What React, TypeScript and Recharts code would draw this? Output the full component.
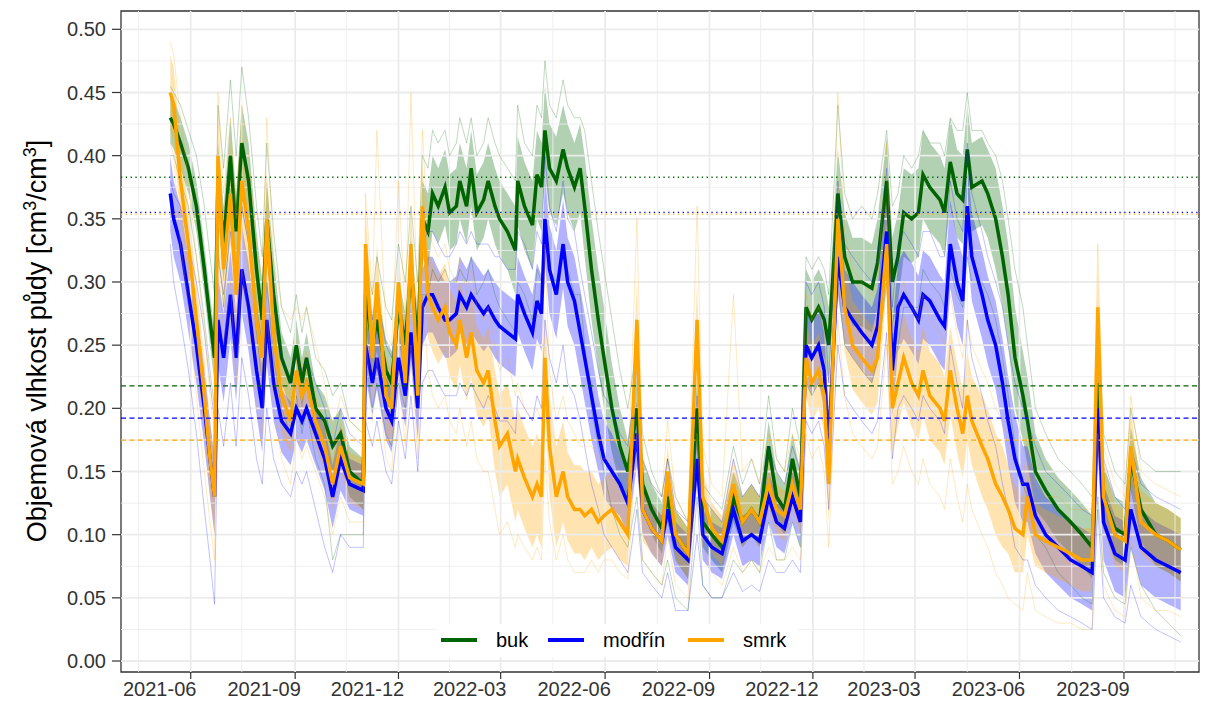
import { ComposedChart, Line, Area, XAxis, YAxis, ReferenceLine, ReferenceArea } from "recharts";

// measurement dates shared by all three stands
const dates = [
  "2021-05-14", "2021-05-17", "2021-05-23", "2021-05-30", "2021-06-06", "2021-06-13", "2021-06-18", "2021-06-22", "2021-06-25", "2021-06-30",
  "2021-07-06", "2021-07-11", "2021-07-16", "2021-07-22", "2021-07-29", "2021-08-03", "2021-08-07", "2021-08-13", "2021-08-20", "2021-08-28",
  "2021-09-02", "2021-09-07", "2021-09-11", "2021-09-19", "2021-09-27", "2021-10-04", "2021-10-11", "2021-10-19", "2021-10-31", "2021-11-02",
  "2021-11-08", "2021-11-12", "2021-11-20", "2021-11-25", "2021-12-01", "2021-12-07", "2021-12-12", "2021-12-18", "2021-12-22", "2021-12-27",
  "2021-12-31", "2022-01-05", "2022-01-11", "2022-01-15", "2022-01-21", "2022-01-24", "2022-01-30", "2022-02-03", "2022-02-08", "2022-02-14",
  "2022-02-18", "2022-02-24", "2022-02-28", "2022-03-07", "2022-03-14", "2022-03-16", "2022-03-22", "2022-03-29", "2022-04-02", "2022-04-06",
  "2022-04-09", "2022-04-13", "2022-04-19", "2022-04-25", "2022-04-29", "2022-05-05", "2022-05-10", "2022-05-14", "2022-05-20", "2022-05-26",
  "2022-05-31", "2022-06-07", "2022-06-14", "2022-06-21", "2022-06-29", "2022-07-04", "2022-07-12", "2022-07-21", "2022-07-26", "2022-08-02",
  "2022-08-13", "2022-08-21", "2022-08-26", "2022-09-03", "2022-09-12", "2022-09-22", "2022-09-30", "2022-10-08", "2022-10-15", "2022-10-23",
  "2022-10-30", "2022-11-06", "2022-11-13", "2022-11-20", "2022-11-25", "2022-11-30", "2022-12-06", "2022-12-11", "2022-12-15", "2022-12-23",
  "2022-12-29", "2023-01-05", "2023-01-13", "2023-01-22", "2023-01-27", "2023-02-04", "2023-02-09", "2023-02-14", "2023-02-19", "2023-02-26",
  "2023-03-04", "2023-03-08", "2023-03-14", "2023-03-23", "2023-03-27", "2023-04-01", "2023-04-07", "2023-04-12", "2023-04-16", "2023-04-20",
  "2023-04-29", "2023-05-04", "2023-05-11", "2023-05-17", "2023-05-22", "2023-05-28", "2023-06-04", "2023-06-08", "2023-06-15", "2023-06-24",
  "2023-07-05", "2023-07-16", "2023-07-26", "2023-08-04", "2023-08-09", "2023-08-14", "2023-08-24", "2023-09-02", "2023-09-07", "2023-09-16",
  "2023-09-29", "2023-10-10", "2023-10-21",
];

// buk (beech): mean, ribbon half width, wettest and driest single sensor
const bukMean = [
  0.43, 0.425, 0.41, 0.39, 0.36, 0.31, 0.27, 0.24, 0.38, 0.33,
  0.40, 0.34, 0.41, 0.38, 0.31, 0.27, 0.35, 0.29, 0.24, 0.22,
  0.25, 0.22, 0.24, 0.20, 0.19, 0.17, 0.18, 0.15, 0.14, 0.29,
  0.25, 0.27, 0.23, 0.22, 0.28, 0.25, 0.31, 0.25, 0.35, 0.34,
  0.37, 0.36, 0.375, 0.355, 0.36, 0.38, 0.36, 0.39, 0.355, 0.365,
  0.38, 0.36, 0.35, 0.34, 0.325, 0.38, 0.36, 0.345, 0.385, 0.375,
  0.42, 0.39, 0.38, 0.405, 0.39, 0.375, 0.39, 0.36, 0.31, 0.27,
  0.24, 0.20, 0.17, 0.15, 0.20, 0.14, 0.12, 0.105, 0.13, 0.10,
  0.085, 0.20, 0.11, 0.10, 0.09, 0.13, 0.11, 0.12, 0.11, 0.17,
  0.13, 0.12, 0.16, 0.13, 0.28, 0.27, 0.28, 0.27, 0.25, 0.37,
  0.32, 0.30, 0.30, 0.295, 0.315, 0.38, 0.30, 0.32, 0.355, 0.35,
  0.355, 0.385, 0.375, 0.365, 0.355, 0.395, 0.37, 0.365, 0.405, 0.375,
  0.38, 0.37, 0.35, 0.32, 0.29, 0.24, 0.21, 0.19, 0.15, 0.135,
  0.12, 0.11, 0.10, 0.09, 0.22, 0.13, 0.105, 0.10, 0.16, 0.12,
  0.10, 0.095, 0.088,
];
const bukSpread = [
  0.02, 0.02, 0.02, 0.02, 0.02, 0.02, 0.02, 0.02, 0.03, 0.03,
  0.03, 0.03, 0.03, 0.03, 0.03, 0.03, 0.03, 0.03, 0.02, 0.02,
  0.02, 0.02, 0.02, 0.02, 0.02, 0.02, 0.02, 0.02, 0.02, 0.025,
  0.025, 0.025, 0.025, 0.025, 0.025, 0.025, 0.025, 0.025, 0.03, 0.03,
  0.03, 0.03, 0.03, 0.03, 0.03, 0.03, 0.03, 0.03, 0.03, 0.03,
  0.03, 0.03, 0.03, 0.03, 0.035, 0.035, 0.035, 0.035, 0.035, 0.035,
  0.035, 0.035, 0.035, 0.035, 0.035, 0.035, 0.035, 0.04, 0.04, 0.04,
  0.04, 0.035, 0.03, 0.025, 0.025, 0.02, 0.02, 0.02, 0.02, 0.02,
  0.02, 0.025, 0.02, 0.02, 0.02, 0.02, 0.02, 0.02, 0.02, 0.02,
  0.02, 0.02, 0.02, 0.02, 0.03, 0.03, 0.03, 0.03, 0.03, 0.035,
  0.035, 0.035, 0.035, 0.035, 0.035, 0.035, 0.035, 0.035, 0.035, 0.035,
  0.035, 0.035, 0.035, 0.035, 0.035, 0.035, 0.035, 0.035, 0.035, 0.035,
  0.035, 0.035, 0.04, 0.04, 0.04, 0.04, 0.035, 0.035, 0.03, 0.025,
  0.025, 0.025, 0.025, 0.025, 0.03, 0.025, 0.025, 0.025, 0.025, 0.025,
  0.025, 0.025, 0.025,
];
const bukUpper = [
  0.455, 0.45, 0.44, 0.42, 0.40, 0.36, 0.32, 0.29, 0.44, 0.39,
  0.46, 0.40, 0.47, 0.43, 0.36, 0.32, 0.41, 0.34, 0.28, 0.26,
  0.29, 0.26, 0.28, 0.24, 0.23, 0.21, 0.22, 0.19, 0.18, 0.32,
  0.29, 0.32, 0.28, 0.27, 0.33, 0.30, 0.36, 0.30, 0.40, 0.39,
  0.42, 0.41, 0.42, 0.40, 0.41, 0.43, 0.41, 0.43, 0.40, 0.41,
  0.43, 0.41, 0.40, 0.39, 0.38, 0.44, 0.41, 0.40, 0.44, 0.43,
  0.475, 0.44, 0.43, 0.46, 0.44, 0.43, 0.43, 0.42, 0.38, 0.34,
  0.31, 0.27, 0.23, 0.20, 0.25, 0.18, 0.15, 0.13, 0.16, 0.13,
  0.11, 0.25, 0.14, 0.13, 0.12, 0.17, 0.14, 0.16, 0.14, 0.21,
  0.16, 0.15, 0.20, 0.17, 0.32, 0.31, 0.32, 0.31, 0.29, 0.44,
  0.37, 0.35, 0.36, 0.35, 0.37, 0.42, 0.36, 0.37, 0.40, 0.39,
  0.40, 0.42, 0.41, 0.41, 0.40, 0.43, 0.42, 0.42, 0.45, 0.42,
  0.42, 0.41, 0.40, 0.38, 0.35, 0.31, 0.28, 0.25, 0.20, 0.18,
  0.16, 0.15, 0.14, 0.13, 0.27, 0.18, 0.15, 0.14, 0.20, 0.16,
  0.15, 0.15, 0.15,
];
const bukLower = [
  0.40, 0.40, 0.38, 0.36, 0.32, 0.27, 0.23, 0.20, 0.33, 0.28,
  0.35, 0.29, 0.36, 0.33, 0.26, 0.22, 0.30, 0.24, 0.20, 0.18,
  0.21, 0.18, 0.20, 0.16, 0.14, 0.08, 0.10, 0.10, 0.10, 0.24,
  0.20, 0.22, 0.18, 0.17, 0.22, 0.20, 0.25, 0.20, 0.29, 0.29,
  0.31, 0.30, 0.31, 0.30, 0.30, 0.31, 0.30, 0.32, 0.29, 0.30,
  0.31, 0.29, 0.28, 0.27, 0.26, 0.30, 0.29, 0.27, 0.31, 0.30,
  0.34, 0.31, 0.30, 0.32, 0.31, 0.29, 0.29, 0.25, 0.20, 0.17,
  0.15, 0.12, 0.10, 0.09, 0.13, 0.08, 0.07, 0.06, 0.08, 0.05,
  0.04, 0.13, 0.06, 0.05, 0.05, 0.08, 0.07, 0.08, 0.07, 0.11,
  0.08, 0.08, 0.11, 0.09, 0.22, 0.21, 0.22, 0.21, 0.18, 0.30,
  0.25, 0.24, 0.23, 0.22, 0.24, 0.30, 0.23, 0.25, 0.28, 0.28,
  0.28, 0.31, 0.30, 0.29, 0.28, 0.31, 0.29, 0.28, 0.32, 0.30,
  0.30, 0.29, 0.27, 0.24, 0.21, 0.17, 0.14, 0.13, 0.10, 0.09,
  0.07, 0.06, 0.05, 0.045, 0.13, 0.07, 0.05, 0.045, 0.09, 0.06,
  0.04, 0.03, 0.02,
];

// modřín (larch)
const modrinMean = [
  0.37, 0.35, 0.33, 0.29, 0.25, 0.20, 0.16, 0.13, 0.27, 0.24,
  0.29, 0.24, 0.31, 0.28, 0.23, 0.20, 0.27, 0.22, 0.19, 0.18,
  0.20, 0.19, 0.20, 0.18, 0.16, 0.13, 0.16, 0.14, 0.135, 0.25,
  0.22, 0.24, 0.20, 0.19, 0.24, 0.21, 0.26, 0.20, 0.28, 0.29,
  0.29, 0.28, 0.27, 0.27, 0.275, 0.29, 0.28, 0.29, 0.283, 0.275,
  0.28, 0.27, 0.265, 0.26, 0.255, 0.29, 0.275, 0.26, 0.285, 0.275,
  0.35, 0.31, 0.29, 0.33, 0.30, 0.285, 0.26, 0.24, 0.21, 0.18,
  0.16, 0.15, 0.14, 0.125, 0.18, 0.12, 0.105, 0.095, 0.12, 0.09,
  0.08, 0.16, 0.10, 0.09, 0.085, 0.12, 0.095, 0.10, 0.095, 0.13,
  0.11, 0.105, 0.13, 0.11, 0.25, 0.24, 0.25, 0.23, 0.17, 0.32,
  0.28, 0.27, 0.26, 0.25, 0.265, 0.34, 0.23, 0.28, 0.29, 0.28,
  0.27, 0.29, 0.285, 0.27, 0.265, 0.33, 0.30, 0.285, 0.36, 0.32,
  0.29, 0.27, 0.25, 0.22, 0.19, 0.16, 0.14, 0.14, 0.115, 0.10,
  0.09, 0.08, 0.075, 0.07, 0.20, 0.11, 0.085, 0.08, 0.12, 0.09,
  0.08, 0.075, 0.07,
];
const modrinSpread = [
  0.03, 0.03, 0.03, 0.03, 0.03, 0.03, 0.03, 0.03, 0.035, 0.035,
  0.035, 0.035, 0.035, 0.035, 0.035, 0.035, 0.035, 0.03, 0.025, 0.025,
  0.025, 0.025, 0.025, 0.025, 0.025, 0.025, 0.025, 0.02, 0.02, 0.025,
  0.025, 0.025, 0.025, 0.025, 0.025, 0.025, 0.025, 0.025, 0.03, 0.03,
  0.03, 0.03, 0.03, 0.03, 0.03, 0.03, 0.03, 0.03, 0.03, 0.03,
  0.03, 0.03, 0.03, 0.03, 0.03, 0.03, 0.03, 0.03, 0.03, 0.03,
  0.035, 0.035, 0.035, 0.035, 0.035, 0.035, 0.035, 0.035, 0.035, 0.03,
  0.03, 0.03, 0.025, 0.025, 0.025, 0.02, 0.02, 0.02, 0.02, 0.02,
  0.02, 0.02, 0.02, 0.02, 0.02, 0.02, 0.02, 0.02, 0.02, 0.02,
  0.02, 0.02, 0.02, 0.02, 0.03, 0.03, 0.03, 0.03, 0.03, 0.03,
  0.03, 0.03, 0.03, 0.03, 0.03, 0.035, 0.035, 0.035, 0.035, 0.035,
  0.035, 0.035, 0.035, 0.035, 0.035, 0.035, 0.035, 0.035, 0.035, 0.035,
  0.035, 0.035, 0.035, 0.035, 0.035, 0.035, 0.03, 0.03, 0.03, 0.03,
  0.03, 0.03, 0.03, 0.03, 0.035, 0.03, 0.03, 0.03, 0.03, 0.03,
  0.03, 0.03, 0.03,
];
const modrinUpper = [
  0.38, 0.37, 0.36, 0.33, 0.30, 0.26, 0.22, 0.19, 0.32, 0.29,
  0.34, 0.29, 0.36, 0.33, 0.28, 0.25, 0.32, 0.27, 0.24, 0.22,
  0.24, 0.23, 0.24, 0.22, 0.20, 0.17, 0.20, 0.18, 0.17, 0.30,
  0.27, 0.29, 0.25, 0.24, 0.29, 0.26, 0.31, 0.25, 0.33, 0.34,
  0.34, 0.33, 0.32, 0.32, 0.33, 0.34, 0.33, 0.34, 0.33, 0.33,
  0.33, 0.32, 0.32, 0.31, 0.31, 0.34, 0.33, 0.31, 0.34, 0.33,
  0.40, 0.36, 0.34, 0.38, 0.35, 0.34, 0.31, 0.29, 0.26, 0.23,
  0.21, 0.20, 0.18, 0.17, 0.23, 0.16, 0.14, 0.13, 0.16, 0.12,
  0.11, 0.21, 0.13, 0.12, 0.11, 0.16, 0.13, 0.14, 0.13, 0.17,
  0.15, 0.14, 0.17, 0.15, 0.30, 0.29, 0.30, 0.28, 0.22, 0.38,
  0.33, 0.32, 0.31, 0.30, 0.32, 0.39, 0.28, 0.33, 0.34, 0.33,
  0.32, 0.34, 0.34, 0.32, 0.32, 0.38, 0.35, 0.34, 0.41, 0.37,
  0.34, 0.32, 0.30, 0.28, 0.25, 0.22, 0.20, 0.19, 0.17, 0.15,
  0.14, 0.13, 0.12, 0.115, 0.25, 0.16, 0.13, 0.12, 0.17, 0.14,
  0.13, 0.125, 0.12,
];
const modrinLower = [
  0.33, 0.30, 0.27, 0.23, 0.18, 0.12, 0.08, 0.045, 0.20, 0.17,
  0.22, 0.17, 0.24, 0.21, 0.16, 0.14, 0.20, 0.16, 0.14, 0.13,
  0.15, 0.14, 0.15, 0.12, 0.09, 0.07, 0.10, 0.09, 0.09, 0.19,
  0.17, 0.19, 0.15, 0.14, 0.19, 0.16, 0.21, 0.15, 0.22, 0.23,
  0.23, 0.22, 0.21, 0.21, 0.21, 0.22, 0.21, 0.22, 0.21, 0.20,
  0.21, 0.20, 0.19, 0.19, 0.18, 0.21, 0.20, 0.19, 0.21, 0.20,
  0.27, 0.24, 0.22, 0.25, 0.22, 0.21, 0.19, 0.17, 0.14, 0.12,
  0.10, 0.09, 0.08, 0.07, 0.12, 0.07, 0.06, 0.05, 0.07, 0.04,
  0.04, 0.10, 0.06, 0.05, 0.05, 0.07, 0.055, 0.06, 0.055, 0.08,
  0.07, 0.07, 0.08, 0.07, 0.19, 0.18, 0.19, 0.17, 0.12, 0.25,
  0.21, 0.20, 0.19, 0.18, 0.19, 0.26, 0.16, 0.20, 0.21, 0.20,
  0.19, 0.21, 0.20, 0.19, 0.18, 0.25, 0.22, 0.20, 0.27, 0.24,
  0.21, 0.19, 0.17, 0.14, 0.12, 0.09, 0.08, 0.08, 0.06, 0.05,
  0.04, 0.035, 0.03, 0.025, 0.12, 0.05, 0.035, 0.03, 0.06, 0.035,
  0.025, 0.02, 0.015,
];

// smrk (spruce)
const smrkMean = [
  0.45, 0.44, 0.38, 0.33, 0.27, 0.21, 0.16, 0.13, 0.40, 0.31,
  0.37, 0.29, 0.38, 0.34, 0.27, 0.24, 0.35, 0.26, 0.21, 0.19,
  0.23, 0.21, 0.22, 0.19, 0.17, 0.14, 0.17, 0.145, 0.14, 0.33,
  0.24, 0.30, 0.21, 0.20, 0.30, 0.22, 0.33, 0.21, 0.36, 0.29,
  0.28, 0.27, 0.28, 0.26, 0.25, 0.27, 0.24, 0.26, 0.23, 0.22,
  0.23, 0.19, 0.17, 0.18, 0.15, 0.16, 0.145, 0.13, 0.14, 0.13,
  0.24, 0.17, 0.13, 0.15, 0.13, 0.12, 0.12, 0.115, 0.12, 0.11,
  0.115, 0.12, 0.11, 0.10, 0.27, 0.12, 0.105, 0.095, 0.15, 0.10,
  0.085, 0.27, 0.13, 0.105, 0.095, 0.14, 0.11, 0.12, 0.11, 0.14,
  0.12, 0.115, 0.14, 0.12, 0.24, 0.22, 0.23, 0.21, 0.14, 0.35,
  0.28, 0.25, 0.24, 0.23, 0.24, 0.33, 0.20, 0.22, 0.24, 0.22,
  0.21, 0.23, 0.21, 0.20, 0.19, 0.23, 0.20, 0.18, 0.21, 0.19,
  0.17, 0.16, 0.14, 0.13, 0.12, 0.105, 0.10, 0.13, 0.10, 0.095,
  0.09, 0.085, 0.08, 0.08, 0.28, 0.13, 0.10, 0.095, 0.17, 0.11,
  0.10, 0.095, 0.088,
];
const smrkSpread = [
  0.03, 0.03, 0.03, 0.03, 0.03, 0.03, 0.03, 0.03, 0.04, 0.04,
  0.04, 0.04, 0.04, 0.04, 0.04, 0.04, 0.04, 0.035, 0.03, 0.025,
  0.025, 0.025, 0.025, 0.02, 0.02, 0.02, 0.02, 0.02, 0.02, 0.03,
  0.03, 0.03, 0.03, 0.03, 0.03, 0.03, 0.03, 0.03, 0.035, 0.035,
  0.035, 0.035, 0.035, 0.035, 0.035, 0.035, 0.035, 0.035, 0.035, 0.035,
  0.035, 0.04, 0.04, 0.04, 0.04, 0.04, 0.04, 0.04, 0.04, 0.04,
  0.04, 0.04, 0.04, 0.04, 0.035, 0.035, 0.035, 0.035, 0.03, 0.03,
  0.03, 0.03, 0.03, 0.025, 0.03, 0.025, 0.02, 0.02, 0.02, 0.02,
  0.02, 0.03, 0.02, 0.02, 0.02, 0.02, 0.02, 0.02, 0.02, 0.02,
  0.02, 0.02, 0.02, 0.02, 0.03, 0.03, 0.03, 0.03, 0.03, 0.035,
  0.035, 0.035, 0.035, 0.035, 0.035, 0.035, 0.035, 0.035, 0.035, 0.035,
  0.035, 0.035, 0.035, 0.035, 0.035, 0.035, 0.035, 0.035, 0.035, 0.035,
  0.04, 0.04, 0.04, 0.04, 0.035, 0.035, 0.03, 0.03, 0.025, 0.025,
  0.025, 0.025, 0.025, 0.025, 0.035, 0.025, 0.025, 0.025, 0.03, 0.025,
  0.025, 0.025, 0.025,
];
const smrkUpper = [
  0.49, 0.48, 0.43, 0.38, 0.32, 0.26, 0.21, 0.18, 0.45, 0.37,
  0.43, 0.35, 0.44, 0.40, 0.33, 0.30, 0.43, 0.32, 0.28, 0.27,
  0.28, 0.27, 0.28, 0.25, 0.22, 0.18, 0.21, 0.19, 0.18, 0.37,
  0.29, 0.42, 0.26, 0.25, 0.38, 0.27, 0.45, 0.27, 0.42, 0.34,
  0.33, 0.32, 0.33, 0.31, 0.30, 0.32, 0.29, 0.31, 0.28, 0.27,
  0.28, 0.25, 0.23, 0.24, 0.21, 0.22, 0.20, 0.19, 0.20, 0.19,
  0.33, 0.23, 0.19, 0.21, 0.19, 0.18, 0.17, 0.17, 0.17, 0.16,
  0.16, 0.16, 0.15, 0.14, 0.35, 0.16, 0.14, 0.13, 0.19, 0.13,
  0.11, 0.36, 0.17, 0.14, 0.13, 0.29, 0.15, 0.16, 0.14, 0.18,
  0.16, 0.15, 0.18, 0.16, 0.29, 0.27, 0.28, 0.26, 0.18, 0.45,
  0.34, 0.31, 0.30, 0.29, 0.30, 0.41, 0.26, 0.28, 0.30, 0.28,
  0.27, 0.29, 0.27, 0.26, 0.25, 0.29, 0.26, 0.24, 0.27, 0.25,
  0.23, 0.22, 0.20, 0.19, 0.17, 0.15, 0.14, 0.18, 0.14, 0.13,
  0.13, 0.12, 0.12, 0.12, 0.33, 0.17, 0.14, 0.13, 0.21, 0.15,
  0.14, 0.135, 0.13,
];
const smrkLower = [
  0.41, 0.40, 0.33, 0.28, 0.21, 0.15, 0.11, 0.08, 0.33, 0.25,
  0.30, 0.22, 0.31, 0.27, 0.20, 0.18, 0.28, 0.20, 0.16, 0.14,
  0.18, 0.16, 0.17, 0.15, 0.13, 0.10, 0.13, 0.11, 0.11, 0.26,
  0.19, 0.24, 0.16, 0.15, 0.23, 0.17, 0.25, 0.16, 0.29, 0.23,
  0.21, 0.20, 0.21, 0.19, 0.18, 0.20, 0.17, 0.19, 0.16, 0.15,
  0.15, 0.12, 0.10, 0.11, 0.09, 0.10, 0.09, 0.08, 0.09, 0.08,
  0.16, 0.11, 0.08, 0.10, 0.08, 0.07, 0.07, 0.07, 0.08, 0.07,
  0.08, 0.08, 0.07, 0.065, 0.18, 0.08, 0.07, 0.06, 0.10, 0.06,
  0.05, 0.18, 0.09, 0.07, 0.06, 0.09, 0.07, 0.08, 0.07, 0.09,
  0.08, 0.08, 0.09, 0.08, 0.18, 0.16, 0.17, 0.15, 0.09, 0.27,
  0.21, 0.18, 0.17, 0.16, 0.17, 0.25, 0.14, 0.15, 0.17, 0.15,
  0.14, 0.16, 0.14, 0.13, 0.12, 0.16, 0.13, 0.11, 0.14, 0.12,
  0.10, 0.09, 0.07, 0.06, 0.05, 0.045, 0.04, 0.07, 0.04, 0.035,
  0.03, 0.03, 0.025, 0.025, 0.18, 0.06, 0.04, 0.035, 0.10, 0.05,
  0.04, 0.04, 0.035,
];

// reference moisture levels (dotted = upper, dashed = lower)
const upperLevels = [
  { value: 0.3829, color: "#006400" },
  { value: 0.3538, color: "#FFA500" },
  { value: 0.3551, color: "#0000FF" },
];
const lowerLevels = [
  { value: 0.2177, color: "#006400" },
  { value: 0.1923, color: "#0000FF" },
  { value: 0.1749, color: "#FFA500" },
];

const tickDates = [
  "2021-06-01", "2021-09-01", "2021-12-01", "2022-03-01", "2022-06-01",
  "2022-09-01", "2022-12-01", "2023-03-01", "2023-06-01", "2023-09-01",
];
const tickLabels = [
  "2021-06", "2021-09", "2021-12", "2022-03", "2022-06",
  "2022-09", "2022-12", "2023-03", "2023-06", "2023-09",
];
const minorDates = [
  "2021-04-16", "2021-07-16", "2021-10-16", "2022-01-15", "2022-04-16",
  "2022-07-17", "2022-10-16", "2023-01-15", "2023-04-16", "2023-07-17", "2023-10-16",
];
const yTicks = [0, 0.05, 0.1, 0.15, 0.2, 0.25, 0.3, 0.35, 0.4, 0.45, 0.5];
const yMinor = [0.025, 0.075, 0.125, 0.175, 0.225, 0.275, 0.325, 0.375, 0.425, 0.475];

const species = [
  { key: "buk", label: "buk", color: "#006400" },
  { key: "modrin", label: "modřín", color: "#0000FF" },
  { key: "smrk", label: "smrk", color: "#FFA500" },
];

const FONT = "'Liberation Sans', Arial, sans-serif";
const ORIGIN = Date.parse("2021-06-01");
const toDay = (s: string) => (Date.parse(s) - ORIGIN) / 864e5;

const X_DOMAIN: [number, number] = [-61.4, 888.1];
const Y_DOMAIN: [number, number] = [-0.0087, 0.5145];

const xTicks = tickDates.map(toDay);

const data = dates.map((d, i) => ({
  t: toDay(d),
  buk: bukMean[i],
  bukBand: [bukMean[i] - bukSpread[i], bukMean[i] + bukSpread[i]],
  bukHi: bukUpper[i],
  bukLo: bukLower[i],
  modrin: modrinMean[i],
  modrinBand: [modrinMean[i] - modrinSpread[i], modrinMean[i] + modrinSpread[i]],
  modrinHi: modrinUpper[i],
  modrinLo: modrinLower[i],
  smrk: smrkMean[i],
  smrkBand: [smrkMean[i] - smrkSpread[i], smrkMean[i] + smrkSpread[i]],
  smrkHi: smrkUpper[i],
  smrkLo: smrkLower[i],
}));

function XTick(props: any) {
  const { x, y, payload } = props;
  const label = tickLabels[xTicks.indexOf(payload.value)];
  return (
    <text x={x - 31} y={y + 15} textAnchor="middle" fontSize={20} fill="#333" fontFamily={FONT}>
      {label}
    </text>
  );
}

export default function App() {
  return (
    <div style={{ position: "absolute", left: 0, top: 0, width: 1207, height: 704, background: "#fff" }}>
      <ComposedChart width={1207} height={704} data={data} margin={{ top: 11, right: 8, bottom: 0, left: 0 }}>
        <XAxis
          dataKey="t"
          type="number"
          domain={X_DOMAIN}
          allowDataOverflow
          ticks={xTicks}
          tick={<XTick />}
          tickSize={7}
          tickLine={{ stroke: "#333", strokeWidth: 1.2 }}
          axisLine={false}
          height={32}
          interval={0}
        />
        <YAxis
          type="number"
          domain={Y_DOMAIN}
          allowDataOverflow
          ticks={yTicks}
          tickFormatter={(v: number) => v.toFixed(2)}
          tick={{ fontSize: 20, fill: "#333", fontFamily: FONT }}
          tickSize={9}
          tickMargin={6}
          tickLine={{ stroke: "#333", strokeWidth: 1.2 }}
          axisLine={false}
          width={121}
          interval={0}
        />

        {yMinor.map((v) => (
          <ReferenceLine key={"ym" + v} y={v} stroke="#EDEDED" strokeWidth={0.9} />
        ))}
        {minorDates.map((d) => (
          <ReferenceLine key={"xm" + d} x={toDay(d)} stroke="#EDEDED" strokeWidth={0.9} />
        ))}
        {yTicks.map((v) => (
          <ReferenceLine key={"yM" + v} y={v} stroke="#EBEBEB" strokeWidth={1.8} />
        ))}
        {xTicks.map((v) => (
          <ReferenceLine key={"xM" + v} x={v} stroke="#EBEBEB" strokeWidth={1.8} />
        ))}

        {species.map((s) => [
          <Line
            key={s.key + "Hi"}
            type="linear"
            dataKey={s.key + "Hi"}
            stroke={s.color}
            strokeOpacity={0.35}
            strokeWidth={0.7}
            dot={false}
            activeDot={false}
            isAnimationActive={false}
          />,
          <Line
            key={s.key + "Lo"}
            type="linear"
            dataKey={s.key + "Lo"}
            stroke={s.color}
            strokeOpacity={0.35}
            strokeWidth={0.7}
            dot={false}
            activeDot={false}
            isAnimationActive={false}
          />,
          <Area
            key={s.key + "Band"}
            type="linear"
            dataKey={s.key + "Band"}
            stroke="none"
            fill={s.color}
            fillOpacity={0.3}
            isAnimationActive={false}
            activeDot={false}
          />,
          <Line
            key={s.key}
            type="linear"
            dataKey={s.key}
            stroke={s.color}
            strokeWidth={3.5}
            dot={false}
            activeDot={false}
            isAnimationActive={false}
          />,
        ])}

        {upperLevels.map((l) => (
          <ReferenceLine key={"u" + l.color} y={l.value} stroke={l.color} strokeWidth={1.3} strokeDasharray="1.3 3.5" />
        ))}
        {lowerLevels.map((l) => (
          <ReferenceLine key={"l" + l.color} y={l.value} stroke={l.color} strokeWidth={1.3} strokeDasharray="5 3.5" />
        ))}

        <ReferenceArea
          x1={X_DOMAIN[0]}
          x2={X_DOMAIN[1]}
          y1={Y_DOMAIN[0]}
          y2={Y_DOMAIN[1]}
          fill="none"
          stroke="#333"
          strokeWidth={1.3}
        />
      </ComposedChart>

      <div
        style={{
          position: "absolute",
          left: 36,
          top: 341,
          transform: "translate(-50%, -50%) rotate(-90deg)",
          whiteSpace: "nowrap",
          fontFamily: FONT,
          fontSize: 27,
          color: "#000",
        }}
      >
        Objemová vlhkost půdy [cm<sup style={{ fontSize: 18 }}>3</sup>/cm<sup style={{ fontSize: 18 }}>3</sup>]
      </div>

      <div
        style={{
          position: "absolute",
          left: 436,
          top: 624,
          width: 362,
          height: 33,
          background: "#fff",
          fontFamily: FONT,
          fontSize: 20,
          color: "#000",
        }}
      >
        {species.map((s, i) => {
          const offsets = [5, 112, 252];
          const textOffsets = [60, 167, 307];
          return [
            <div
              key={s.key + "k"}
              style={{ position: "absolute", left: offsets[i], top: 14, width: 36, height: 4, background: s.color }}
            />,
            <div key={s.key + "t"} style={{ position: "absolute", left: textOffsets[i], top: 4, lineHeight: "24px" }}>
              {s.label}
            </div>,
          ];
        })}
      </div>
    </div>
  );
}
